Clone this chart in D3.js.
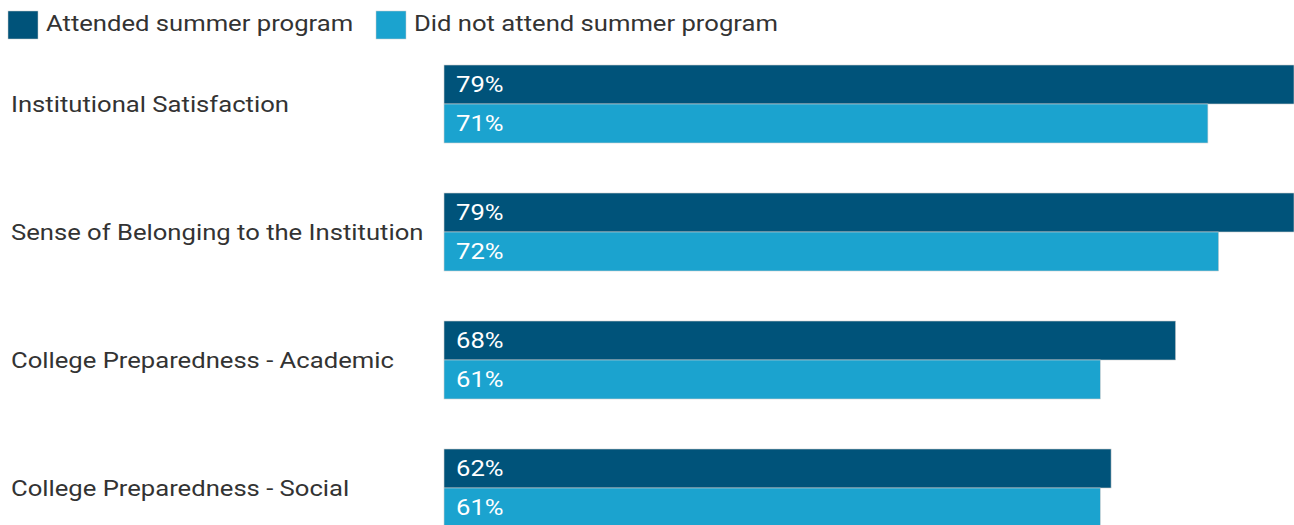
<!DOCTYPE html>
<html>
<head>
<meta charset="utf-8">
<script src="https://cdn.jsdelivr.net/npm/d3@7"></script>
<style>
  body { margin: 0; background: #fff; }
  svg { display: block; font-family: Roboto, sans-serif; }
</style>
</head>
<body>
<svg id="chart" width="1294" height="525"></svg>
<script>
// data
const categories = [
  'Institutional Satisfaction',
  'Sense of Belonging to the Institution',
  'College Preparedness - Academic',
  'College Preparedness - Social'
];
const seriesNames = ['Attended summer program', 'Did not attend summer program'];
const attended = [79, 79, 68, 62];
const notAttended = [71, 72, 61, 61];
const colors = ['#00537a', '#1ba3cf'];

const W = 1294, H = 525;
const stretch = 1.165; // text in the original is a bit wider than plain Roboto
const svg = d3.select('#chart');

// scales
const x = d3.scaleLinear().domain([0, 79]).range([444, 1294]);
const y = d3.scaleBand().domain(categories).range([65, 527]).paddingInner(50 / 128);
const ySub = d3.scaleBand().domain(seriesNames).range([0, y.bandwidth()]);

// legend
const legend = svg.append('g');
const legendX = [8, 376];
seriesNames.forEach((name, i) => {
  const g = legend.append('g').attr('transform', `translate(${legendX[i]},0)`);
  g.append('rect').attr('x', 0).attr('y', 11).attr('width', 30).attr('height', 28)
    .attr('fill', colors[i]).attr('stroke', '#ccc').attr('stroke-width', 0.5);
  g.append('text').attr('transform', `translate(38,31) scale(${stretch},1)`)
    .attr('fill', '#333').style('font-size', '22px').text(name);
});

// category labels
svg.append('g').selectAll('text')
  .data(categories)
  .join('text')
  .attr('transform', d => `translate(11,${y(d) + y.bandwidth() / 2 + 8}) scale(${stretch},1)`)
  .attr('fill', '#333').style('font-size', '22px')
  .text(d => d);

// bars
const rows = categories.map((c, i) => ({ cat: c, values: [attended[i], notAttended[i]] }));
const group = svg.append('g').selectAll('g')
  .data(rows)
  .join('g')
  .attr('transform', d => `translate(0,${y(d.cat)})`);

const cell = group.selectAll('g')
  .data(d => d.values.map((v, i) => ({ name: seriesNames[i], value: v, i })))
  .join('g');

cell.append('rect')
  .attr('x', x(0))
  .attr('y', d => ySub(d.name))
  .attr('width', d => x(d.value) - x(0))
  .attr('height', ySub.bandwidth())
  .attr('fill', d => colors[d.i])
  .attr('stroke', '#d0d0d0').attr('stroke-width', 0.6);

cell.append('text')
  .attr('transform', d => `translate(${x(0) + 12},${ySub(d.name) + ySub.bandwidth() / 2 + 7}) scale(${stretch},1)`)
  .attr('fill', '#fff').style('font-size', '22px')
  .text(d => d.value + '%');
</script>
</body>
</html>
